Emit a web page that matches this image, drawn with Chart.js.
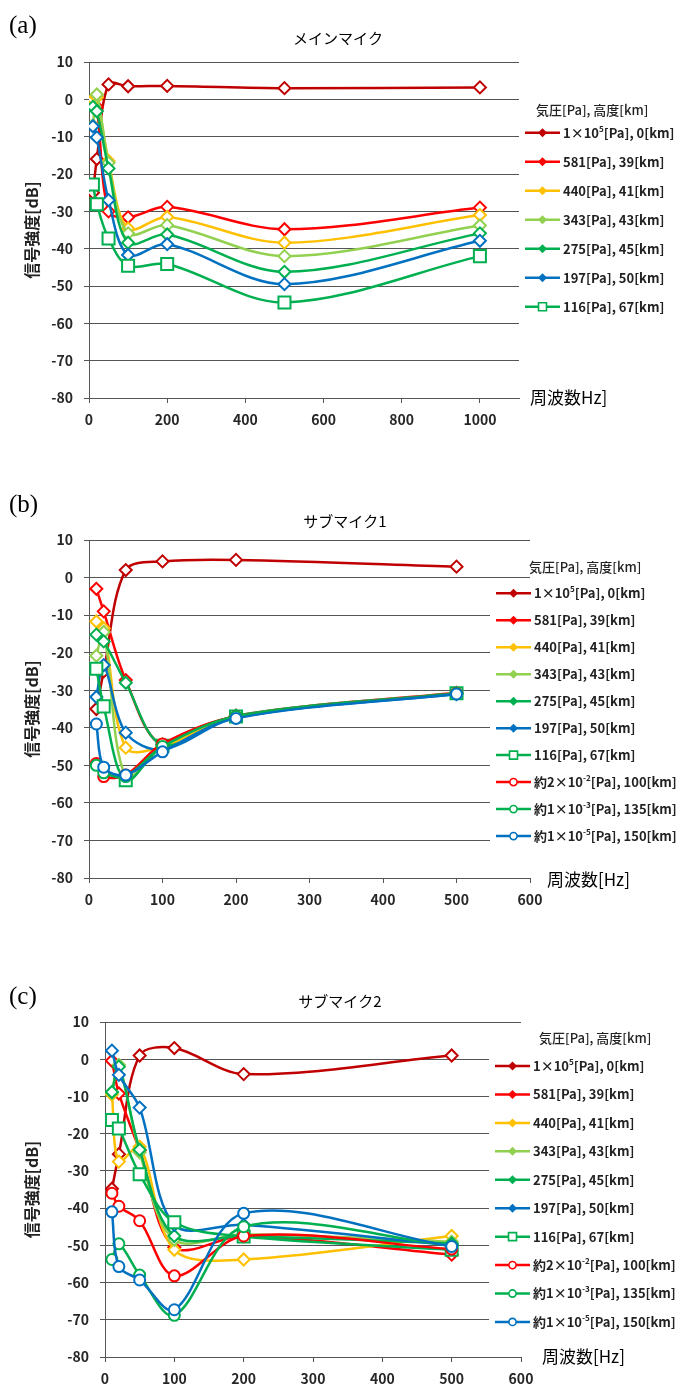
<!DOCTYPE html>
<html lang="ja">
<head>
<meta charset="utf-8">
<script src="https://cdn.jsdelivr.net/npm/chart.js@4/dist/chart.umd.min.js"></script>
<style>
  html, body { margin: 0; padding: 0; background: #fff; }
  body { width: 680px; height: 1387px; position: relative; overflow: hidden; }
  canvas { position: absolute; left: 0; top: 0; }
</style>
</head>
<body>
<canvas id="chartMain" width="680" height="1387"></canvas>
<canvas id="chartSub1" width="680" height="1387"></canvas>
<canvas id="chartSub2" width="680" height="1387"></canvas>
<script>
const JP = '"Noto Sans CJK JP", "Noto Sans", sans-serif';

// (a) メインマイク
const freqMain = [10, 20, 50, 100, 200, 500, 1000];
const main0km  = [-25, -16, 4, 3.5, 3.6, 3.0, 3.2];
const main39km = [-0.8, -2, -30, -31.6, -28.8, -34.8, -29];
const main41km = [0, 0.5, -16.5, -34.6, -31.5, -38.4, -31];
const main43km = [-7, 1.3, -17, -35.9, -33.7, -42, -33.8];
const main45km = [-2, -3.2, -18.5, -38.4, -36.2, -46.2, -35.9];
const main50km = [-7.2, -10.2, -27, -41.7, -38.8, -49.5, -37.9];
const main67km = [-22.8, -28.1, -37.3, -44.6, -44.1, -54.4, -42];

// (b) サブマイク1 / (c) サブマイク2
const freqSub = [10, 20, 50, 100, 200, 500];
const sub1_0km   = [-35, -25, 2, 4.3, 4.7, 2.9];
const sub1_39km  = [-3, -9, -27.3, -44.5, -36.8, -30.7];
const sub1_41km  = [-11.7, -13.5, -45.3, -45, -37, -30.8];
const sub1_43km  = [-20.8, -14.5, -53, -45, -37, -30.8];
const sub1_45km  = [-15.2, -17, -28, -44.5, -36.8, -30.8];
const sub1_50km  = [-31.8, -23.3, -41.3, -45.8, -37.3, -31];
const sub1_67km  = [-24.3, -34.3, -54, -44.8, -37, -30.8];
const sub1_100km = [-49.5, -53, -52.6, -44.3, -37, -30.8];
const sub1_135km = [-50, -52, -53, -45, -37, -30.9];
const sub1_150km = [-39, -50.5, -52.6, -46.4, -37.5, -31];

const sub2_0km   = [-34.8, -25.5, 1.0, 3.0, -4.0, 1.0];
const sub2_39km  = [-0.4, -9.2, -24.5, -50.5, -47.5, -52.5];
const sub2_41km  = [-9.5, -27.5, -23.5, -51.2, -53.8, -47.5];
const sub2_43km  = [-9, -1.5, -25, -48.5, -47, -49];
const sub2_45km  = [-8.8, -2, -24.3, -47.5, -47.5, -49.5];
const sub2_50km  = [2.3, -4.2, -13, -44.5, -44.5, -50];
const sub2_67km  = [-16.3, -18.6, -30.9, -43.8, -47.6, -51.2];
const sub2_100km = [-36, -39.5, -43.4, -58.2, -47.5, -51];
const sub2_135km = [-53.8, -49.6, -58, -68.8, -45, -50];
const sub2_150km = [-41, -55.7, -59.3, -67.3, -41.4, -50.3];

const legendLabels = [
  "1×10^{5}[Pa], 0[km]", "581[Pa], 39[km]", "440[Pa], 41[km]", "343[Pa], 43[km]",
  "275[Pa], 45[km]", "197[Pa], 50[km]", "116[Pa], 67[km]",
  "約2×10^{-2}[Pa], 100[km]", "約1×10^{-3}[Pa], 135[km]", "約1×10^{-5}[Pa], 150[km]"
];

const yTickValues = [10, 0, -10, -20, -30, -40, -50, -60, -70, -80];
const xTicksMain = [0, 200, 400, 600, 800, 1000];
const xTicksSub = [0, 100, 200, 300, 400, 500, 600];

const seriesColors = ["#C00000", "#FF0000", "#FFC000", "#92D050", "#00B050", "#0070C0",
  "#00B050", "#FF0000", "#00B050", "#0070C0"];
const seriesMarkers = ["diamond", "diamond", "diamond", "diamond", "diamond", "diamond",
  "square", "circle", "circle", "circle"];

const gridColor = "#555";
const tickColor = "#262626";

function makeDatasets(freq, series) {
  return series.map((vals, i) => {
    const m = seriesMarkers[i];
    return {
      label: legendLabels[i],
      data: vals.map((v, k) => ({ x: freq[k], y: v })),
      borderColor: seriesColors[i],
      borderWidth: 2.5,
      tension: 0.33,
      pointStyle: m === "diamond" ? "rectRot" : m === "square" ? "rect" : "circle",
      pointRadius: m === "diamond" ? 6 : m === "square" ? 8.5 : 5.5,
      pointBorderWidth: 2,
      pointBorderColor: seriesColors[i],
      pointBackgroundColor: "#fff",
      order: -i
    };
  });
}

function drawRich(ctx, text, x, y, size, weight) {
  const parts = text.split(/\^\{([^}]*)\}/);
  ctx.textBaseline = "middle";
  ctx.textAlign = "left";
  parts.forEach((p, i) => {
    const sup = i % 2 === 1;
    ctx.font = `${weight} ${sup ? size * 0.62 : size}px ${JP}`;
    ctx.fillText(p, x, sup ? y - size * 0.32 : y);
    x += ctx.measureText(p).width;
  });
}

function drawLegendMarker(ctx, type, x, y, color) {
  ctx.save();
  ctx.strokeStyle = color;
  ctx.fillStyle = color;
  ctx.lineWidth = 1.6;
  ctx.beginPath();
  if (type === "diamond") {
    ctx.moveTo(x, y - 4.5);
    ctx.lineTo(x + 4.5, y);
    ctx.lineTo(x, y + 4.5);
    ctx.lineTo(x - 4.5, y);
    ctx.closePath();
    ctx.fill();
  } else {
    if (type === "square") ctx.rect(x - 4, y - 4, 8, 8);
    else ctx.arc(x, y, 3.6, 0, Math.PI * 2);
    ctx.fillStyle = "#fff";
    ctx.fill();
    ctx.stroke();
  }
  ctx.restore();
}

function makeDecor(d) {
  return {
    id: "panelDecor",
    afterDraw(chart) {
      const ctx = chart.ctx;
      ctx.save();
      if (d.cover) {
        ctx.fillStyle = "#fff";
        ctx.fillRect(d.cover.x, d.cover.y, d.cover.w, d.cover.h);
      }
      ctx.fillStyle = "#000";
      ctx.textBaseline = "middle";

      ctx.textAlign = "left";
      ctx.font = '25px "Liberation Serif", serif';
      ctx.fillText(d.tag, 9, d.tagY);

      ctx.textAlign = "center";
      ctx.font = `15px ${JP}`;
      ctx.fillText(d.title, d.titleX, d.titleY);

      ctx.textAlign = "left";
      ctx.font = `17px ${JP}`;
      ctx.fillText(d.xTitle, d.xTitleX, d.xTitleY);

      ctx.font = `500 13px ${JP}`;
      ctx.fillStyle = "#222";
      ctx.fillText("気圧[Pa], 高度[km]", d.legendTitleX, d.legendTitleY);

      chart.data.datasets.forEach((ds, i) => {
        const y = d.legendY + i * d.legendStep;
        ctx.strokeStyle = ds.borderColor;
        ctx.lineWidth = 2.5;
        ctx.beginPath();
        ctx.moveTo(d.legendX, y);
        ctx.lineTo(d.legendX + 35, y);
        ctx.stroke();
        drawLegendMarker(ctx, seriesMarkers[i], d.legendX + 17.5, y, ds.borderColor);
        ctx.fillStyle = "#222";
        drawRich(ctx, ds.label, d.legendX + 38, y, 13, "bold");
      });
      ctx.restore();
    }
  };
}

function buildChart(id, freq, series, xTicks, xMax, area, decor) {
  const tickFont = { family: JP, size: 14, weight: "bold" };
  return new Chart(document.getElementById(id), {
    type: "line",
    data: { datasets: makeDatasets(freq, series) },
    options: {
      responsive: false,
      animation: false,
      events: [],
      layout: {
        padding: { left: 0, top: area.top, right: 680 - area.right, bottom: 1387 - area.bottom - 30 }
      },
      plugins: { legend: { display: false }, tooltip: { enabled: false } },
      scales: {
        x: {
          type: "linear",
          min: 0,
          max: xMax,
          afterBuildTicks: (s) => { s.ticks = xTicks.map((v) => ({ value: v })); },
          afterFit: (s) => { s.height = 30; },
          grid: { drawOnChartArea: false, tickLength: 5, color: gridColor },
          border: { color: gridColor },
          ticks: { padding: 8, font: tickFont, color: tickColor, maxRotation: 0, callback: (v) => String(v) }
        },
        y: {
          min: -80,
          max: 10,
          afterBuildTicks: (s) => { s.ticks = yTickValues.map((v) => ({ value: v })); },
          afterFit: (s) => { s.width = area.left; },
          grid: { color: gridColor, tickLength: 5 },
          border: { color: gridColor },
          ticks: { padding: 11, font: tickFont, color: tickColor, callback: (v) => String(v) },
          title: {
            display: true,
            text: "信号強度[dB]",
            font: { family: JP, size: 16, weight: "bold" },
            color: "#222",
            padding: { top: 22, bottom: 0 }
          }
        }
      }
    },
    plugins: [makeDecor(decor)]
  });
}

buildChart("chartMain", freqMain,
  [main0km, main39km, main41km, main43km, main45km, main50km, main67km],
  xTicksMain, 1100,
  { left: 89, right: 519, top: 62, bottom: 398 },
  {
    tag: "(a)", tagY: 26,
    title: "メインマイク", titleX: 338, titleY: 38.5,
    xTitle: "周波数Hz]", xTitleX: 530, xTitleY: 397.5,
    legendTitleX: 536, legendTitleY: 110,
    legendX: 525, legendY: 132.7, legendStep: 29,
    cover: null
  });

buildChart("chartSub1", freqSub,
  [sub1_0km, sub1_39km, sub1_41km, sub1_43km, sub1_45km, sub1_50km, sub1_67km,
   sub1_100km, sub1_135km, sub1_150km],
  xTicksSub, 600,
  { left: 89, right: 530, top: 540, bottom: 878 },
  {
    tag: "(b)", tagY: 505,
    title: "サブマイク1", titleX: 345, titleY: 521,
    xTitle: "周波数[Hz]", xTitleX: 547, xTitleY: 880,
    legendTitleX: 529, legendTitleY: 567,
    legendX: 496, legendY: 593.3, legendStep: 26.97,
    cover: { x: 490, y: 584, w: 190, h: 264 }
  });

buildChart("chartSub2", freqSub,
  [sub2_0km, sub2_39km, sub2_41km, sub2_43km, sub2_45km, sub2_50km, sub2_67km,
   sub2_100km, sub2_135km, sub2_150km],
  xTicksSub, 600,
  { left: 105, right: 521, top: 1022, bottom: 1357 },
  {
    tag: "(c)", tagY: 997,
    title: "サブマイク2", titleX: 340, titleY: 1001.7,
    xTitle: "周波数[Hz]", xTitleX: 542, xTitleY: 1357,
    legendTitleX: 539, legendTitleY: 1038,
    legendX: 495, legendY: 1066, legendStep: 28.44,
    cover: { x: 489, y: 1045, w: 191, h: 290 }
  });
</script>
</body>
</html>
